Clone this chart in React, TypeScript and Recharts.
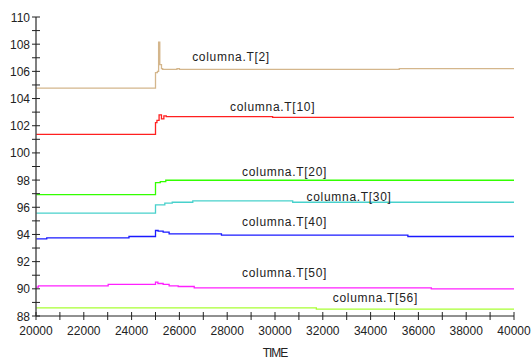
import React from "react";
import {
  LineChart,
  Line,
  XAxis,
  YAxis,
  ReferenceDot,
} from "recharts";

// tick positions
const xTicks = [
  20000, 21000, 22000, 23000, 24000, 25000, 26000, 27000, 28000, 29000, 30000,
  31000, 32000, 33000, 34000, 35000, 36000, 37000, 38000, 39000, 40000,
];
const yTicks = [
  88, 89, 90, 91, 92, 93, 94, 95, 96, 97, 98, 99, 100, 101, 102, 103, 104, 105,
  106, 107, 108, 109, 110,
];

// series (time, value)
const t2Time = [20000, 25000, 25080, 25130, 25180, 25250, 25300, 25900, 26000, 35200, 40000];
const t2Vals = [104.76, 105.9, 106.0, 108.15, 106.5, 106.2, 106.15, 106.2, 106.15, 106.2, 106.2];

const t10Time = [20000, 25000, 25060, 25150, 25250, 25350, 25450, 29900, 40000];
const t10Vals = [101.37, 102.23, 102.4, 102.8, 102.5, 102.72, 102.67, 102.62, 102.62];

const t20Time = [20000, 25000, 25200, 25430, 40000];
const t20Vals = [96.93, 97.82, 97.89, 97.99, 97.99];

const t30Time = [20000, 25000, 25390, 25700, 26560, 30740, 40000];
const t30Vals = [95.57, 96.18, 96.3, 96.37, 96.47, 96.37, 96.37];

const t40Time = [20000, 20450, 23890, 25000, 25110, 25320, 25570, 27760, 35560, 40000];
const t40Vals = [93.68, 93.75, 93.85, 94.29, 94.24, 94.17, 94.04, 93.95, 93.85, 93.85];

const t50Time = [20000, 20100, 23020, 25000, 25100, 25320, 25570, 25950, 26620, 36540, 40000];
const t50Vals = [90.12, 90.22, 90.32, 90.49, 90.39, 90.32, 90.22, 90.17, 90.07, 90.0, 90.0];

const t56Time = [20000, 31730, 40000];
const t56Vals = [88.6, 88.51, 88.51];

// curve labels: name, anchor time, anchor value
const labelNames = ["columna.T[2]", "columna.T[10]", "columna.T[20]", "columna.T[30]", "columna.T[40]", "columna.T[50]", "columna.T[56]"];
const labelTime = [28160, 29900, 30400, 33100, 30400, 30400, 34200];
const labelVals = [107.06, 103.38, 98.6, 96.76, 94.93, 91.18, 89.34];

const zip = (ts: number[], vs: number[]) => ts.map((t, i) => ({ t, v: vs[i] }));

const series = [
  { key: "T2", color: "#D4B68C", data: zip(t2Time, t2Vals) },
  { key: "T10", color: "#FF2020", data: zip(t10Time, t10Vals) },
  { key: "T20", color: "#33FF00", data: zip(t20Time, t20Vals) },
  { key: "T30", color: "#48D1CC", data: zip(t30Time, t30Vals) },
  { key: "T40", color: "#1A1AFF", data: zip(t40Time, t40Vals) },
  { key: "T50", color: "#FF20FF", data: zip(t50Time, t50Vals) },
  { key: "T56", color: "#A8FF33", data: zip(t56Time, t56Vals) },
];

const FONT = "'Liberation Sans', Arial, sans-serif";

const YTick = (props: any) => {
  const { x, y, payload } = props;
  const v = payload.value;
  return (
    <g>
      <line x1={x - 4} x2={x + 4} y1={y} y2={y} stroke="#222" strokeWidth={1} />
      {v % 2 === 0 && (
        <text x={x - 6} y={y} dy={4.5} textAnchor="end" fontSize={12} fill="#222" fontFamily={FONT}>
          {v}
        </text>
      )}
    </g>
  );
};

const XTick = (props: any) => {
  const { x, y, payload } = props;
  const v = payload.value;
  return (
    <g>
      <line x1={x} x2={x} y1={y - 4} y2={y + 4} stroke="#222" strokeWidth={1} />
      {v % 2000 === 0 && (
        <text x={x} y={y + 19} textAnchor="middle" fontSize={12} fill="#222" fontFamily={FONT}>
          {v}
        </text>
      )}
    </g>
  );
};

export default function App() {
  return (
    <div style={{ width: 531, height: 360, background: "#fff" }}>
      <style>{`body{margin:0}`}</style>
      <LineChart
        width={531}
        height={360}
        margin={{ top: 17, right: 17, bottom: 0, left: 0 }}
      >
        <XAxis
          dataKey="t"
          type="number"
          domain={[20000, 40000]}
          ticks={xTicks}
          interval={0}
          tickSize={0}
          tickMargin={0}
          tickLine={false}
          tick={<XTick />}
          height={44}
          stroke="#222"
          allowDataOverflow
          label={{
            value: "TIME",
            position: "insideBottom",
            offset: 3,
            fontSize: 12,
            fill: "#222",
            fontFamily: FONT,
            letterSpacing: -1,
          }}
        />
        <YAxis
          dataKey="v"
          type="number"
          domain={[88, 110]}
          ticks={yTicks}
          interval={0}
          tickSize={0}
          tickMargin={0}
          tickLine={false}
          tick={<YTick />}
          width={36}
          stroke="#555"
          strokeWidth={1.5}
          allowDataOverflow
        />
        {series.map((s) => (
          <Line
            key={s.key}
            data={s.data}
            dataKey="v"
            type="stepAfter"
            stroke={s.color}
            strokeWidth={1.3}
            dot={false}
            activeDot={false}
            isAnimationActive={false}
          />
        ))}
        {labelNames.map((name, i) => (
          <ReferenceDot
            key={name}
            x={labelTime[i]}
            y={labelVals[i]}
            r={0}
            fill="none"
            stroke="none"
            ifOverflow="visible"
            label={{
              value: name,
              position: "center",
              fontSize: 12,
              fill: "#222",
              fontFamily: FONT,
              letterSpacing: 0.7,
            }}
          />
        ))}
      </LineChart>
    </div>
  );
}
